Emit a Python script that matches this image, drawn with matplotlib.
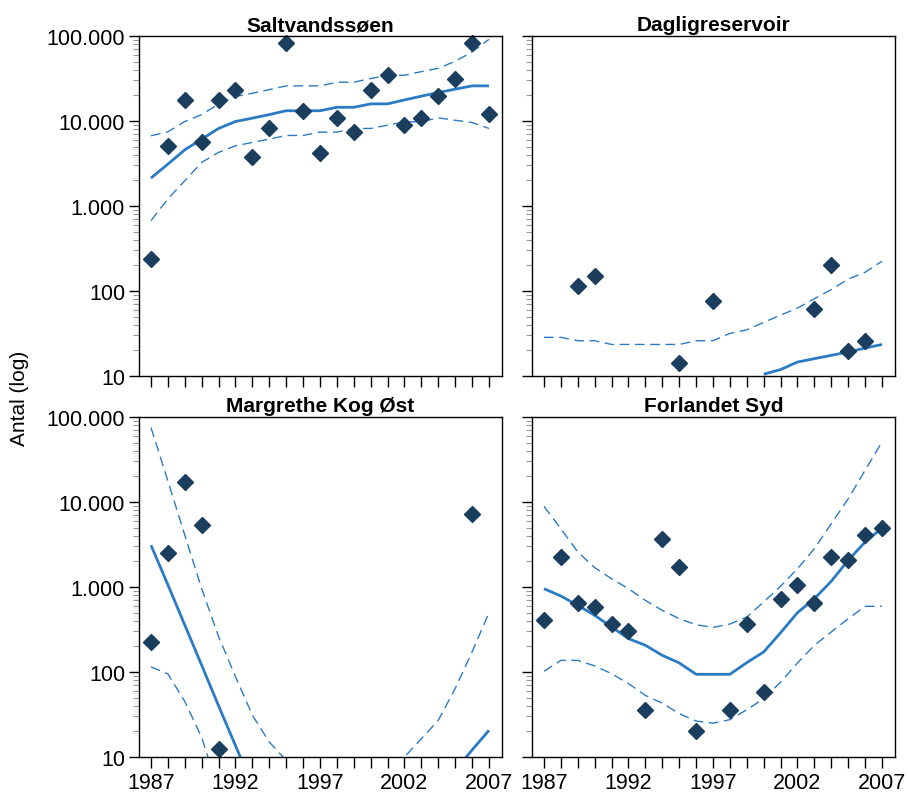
import numpy as np
import matplotlib.pyplot as plt
from matplotlib.ticker import FixedLocator, FuncFormatter, LogLocator, NullFormatter

plt.rcParams["font.family"] = ["Liberation Sans", "DejaVu Sans"]

years = np.arange(1987, 2008)
nan = np.nan

# Saltvandssøen
salt_obs = [240, 5070, 17600, 5600, 17600, 23400, 3790, 8170, 82000, 13200, 4190,
            10900, 7400, 23400, 34500, 8930, 10900, 19600, 31300, 82000, 12000]
salt_fit = [2130, 3110, 4580, 6120, 8170, 9870, 10800, 11900, 13200, 13200, 13200,
            14500, 14500, 15900, 15900, 17700, 19600, 21600, 23700, 25900, 25900]
salt_hi = [6700, 7460, 9870, 11900, 15800, 19400, 21200, 23400, 25900, 25900, 25900,
           28600, 28600, 31600, 34500, 34500, 38100, 41700, 50400, 64900, 91400]
salt_lo = [673, 1210, 1980, 3260, 4270, 5110, 5600, 6120, 6760, 6760, 7400,
           7400, 8170, 8170, 8930, 9780, 9780, 10900, 10200, 9600, 8170]

# Dagligreservoir
dagl_obs = [nan, nan, 113, 152, nan, nan, nan, nan, 14.4, nan, 76,
            nan, nan, nan, nan, nan, 62, 203, 19.5, 26, nan]
dagl_fit = [nan, nan, nan, nan, nan, nan, nan, nan, nan, nan, nan,
            nan, nan, 10.5, 11.9, 14.6, 16, 17.5, 19.2, 21.3, 23.5]
dagl_hi = [28.5, 28.5, 26, 26, 23.5, 23.5, 23.5, 23.5, 23.5, 26, 26,
           31.7, 35, 42.7, 52, 63, 81, 104, 138, 166, 224]
dagl_lo = [nan] * 21

# Margrethe Kog Øst
marg_obs = [225, 2510, 17200, 5400, 12.3, nan, nan, nan, nan, nan, nan,
            nan, nan, nan, nan, nan, nan, nan, nan, 7230, nan]
marg_fit = [3100, 1060, 357, 120, 40, 13.6, 4.6, nan, nan, nan, nan,
            nan, nan, nan, nan, nan, nan, nan, 7, 12.1, 20.6]
marg_hi = [75000, 17700, 4080, 955, 261, 88, 31, 15, 9.1, 5, nan,
           nan, nan, nan, 5.5, 10, 16.4, 27, 64, 172, 499]
marg_lo = [115, 95, 45, 17, 4, nan, nan, nan, nan, nan, nan,
           nan, nan, nan, nan, nan, nan, nan, nan, nan, nan]

# Forlandet Syd
forl_obs = [405, 2270, 649, 587, 364, 301, 36, 3700, 1720, 20.2, nan,
            36, 364, 58, 716, 1047, 649, 2270, 2060, 4050, 4940]
forl_fit = [955, 783, 608, 464, 338, 247, 206, 157, 128, 94, 94,
            94, 129, 172, 290, 499, 729, 1170, 2060, 3380, 4940]
forl_hi = [8890, 4850, 2580, 1690, 1250, 955, 696, 531, 424, 360, 335,
           367, 443, 667, 1020, 1640, 2830, 5560, 10900, 23600, 50800]
forl_lo = [102, 137, 137, 118, 95.5, 73, 53, 43, 32.4, 26.5, 25,
           27.5, 36, 48.5, 76, 128, 206, 296, 424, 593, 593]

panels = [
    ("Saltvandssøen", salt_obs, salt_fit, salt_hi, salt_lo),
    ("Dagligreservoir", dagl_obs, dagl_fit, dagl_hi, dagl_lo),
    ("Margrethe Kog Øst", marg_obs, marg_fit, marg_hi, marg_lo),
    ("Forlandet Syd", forl_obs, forl_fit, forl_hi, forl_lo),
]

line_col = "#2b7bc4"
dot_col = "#1b3e5e"

fig = plt.figure(figsize=(9.08, 8.03), dpi=100)
W, H = 908, 803
lefts = [139, 532]
tops = [37, 418]
aw, ah = 363, 340


def fmt_thousands(v, pos):
    return f"{int(round(v)):,}".replace(",", ".")


for i, (name, obs, fit, hi, lo) in enumerate(panels):
    r, c = divmod(i, 2)
    ax = fig.add_axes([lefts[c] / W, 1 - (tops[r] + ah) / H, aw / W, ah / H])
    ax.set_yscale("log")
    ax.set_ylim(10, 100000)
    ax.set_xlim(1986.29, 2007.77)

    ax.plot(years, fit, color=line_col, lw=2.0, solid_capstyle="butt")
    ax.plot(years, hi, color=line_col, lw=1.0, dashes=(7, 4))
    ax.plot(years, lo, color=line_col, lw=1.0, dashes=(7, 4))
    ax.plot(years, obs, ls="none", marker="D", ms=7.8, color=dot_col, clip_on=False)

    ax.set_title(name, fontsize=15, fontweight="bold", pad=4)

    ax.xaxis.set_major_locator(FixedLocator(years))
    if r == 1:
        ax.set_xticklabels([str(y) if (y - 1987) % 5 == 0 else "" for y in years])
    else:
        ax.set_xticklabels([])
    ax.tick_params(axis="x", direction="out", length=8, width=1, labelsize=15.5, pad=3)

    ax.yaxis.set_major_locator(FixedLocator([10, 100, 1000, 10000, 100000]))
    ax.yaxis.set_minor_locator(LogLocator(base=10, subs=np.arange(2, 10)))
    ax.yaxis.set_minor_formatter(NullFormatter())
    if c == 0:
        ax.yaxis.set_major_formatter(FuncFormatter(fmt_thousands))
    else:
        ax.set_yticklabels([])
    ax.tick_params(axis="y", which="major", direction="out", length=7, width=1,
                   labelsize=15.5, pad=3)
    ax.tick_params(axis="y", which="minor", direction="out", length=4, width=0.8,
                   color="#999999")
    ax.tick_params(top=False, right=False)
    for s in ax.spines.values():
        s.set_linewidth(1.0)

fig.text(20 / W, 1 - 398 / H, "Antal (log)", rotation=90, fontsize=15,
         ha="center", va="center")

fig.savefig("out.png", dpi=100)
